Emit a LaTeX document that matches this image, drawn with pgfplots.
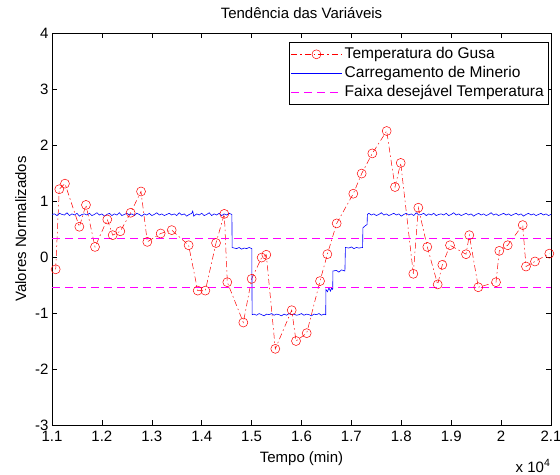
\documentclass[border=0pt]{standalone}
\usepackage{pgfplots}
\pgfplotsset{compat=1.18}
\usepackage{fontspec}
\setmainfont{Liberation Sans}

\definecolor{mred}{RGB}{255,0,0}
\definecolor{mblue}{RGB}{0,0,255}
\definecolor{mmag}{RGB}{255,0,255}
\newcommand{\fs}{\fontsize{15bp}{18bp}\selectfont}

\begin{document}
\begin{tikzpicture}
\path[use as bounding box] (0,0) rectangle (560bp,475bp);
\begin{axis}[
    name=ax,
    at={(52bp,50bp)}, anchor=south west,
    scale only axis, width=499bp, height=392bp,
    xmin=11000, xmax=21000,
    ymin=-3, ymax=4,
    scaled x ticks=false,
    xtick={11000,12000,13000,14000,15000,16000,17000,18000,19000,20000,21000},
    xticklabels={1.1,1.2,1.3,1.4,1.5,1.6,1.7,1.8,1.9,2,2.1},
    ytick={-3,-2,-1,0,1,2,3,4},
    yticklabels={-3,-2,-1,0,1,2,3,4},
    tick label style={font=\fs},
    xticklabel style={yshift=-3bp},
    tick align=inside, major tick length=5bp,
    axis line style={black, line width=0.5bp},
    every tick/.style={black, line width=0.5bp},
    title={Tendência das Variáveis},
    title style={font=\fs, anchor=base, at={(0.5,1)}, yshift=9bp},
    xlabel={Tempo (min)},
    ylabel={Valores Normalizados},
    label style={font=\fs},
    xlabel style={yshift=-3bp},
    ylabel style={yshift=2bp},
    legend cell align=left,
    legend style={at={(1,1)}, anchor=north east, xshift=-3bp, yshift=-9bp,
        font=\fontsize{15.5bp}{18bp}\selectfont, draw=black, line width=0.5bp,
        inner xsep=2bp, inner ysep=2.5bp, row sep=0pt,
        nodes={text height=11bp, text depth=3.5bp, inner ysep=2.3bp}},
    legend image code/.code={\draw[mark repeat=2,mark phase=2,#1] plot coordinates {(0bp,0bp) (25bp,0bp) (51bp,0bp)};},
]
\addplot[color=mred, line width=0.5bp, dash pattern=on 6bp off 3bp on 1.5bp off 3bp,
    mark=o, mark size=4.5bp, mark options={solid}] coordinates {
(11074,-0.22) (11146,1.21) (11260,1.31) (11548,0.54) (11681,0.93) (11862,0.18)
(12108,0.67) (12216,0.39) (12369,0.46) (12576,0.79) (12784,1.17) (12910,0.27)
(13178,0.42) (13399,0.48) (13738,0.21) (13920,-0.60) (14073,-0.60) (14287,0.25)
(14453,0.77) (14513,-0.45) (14834,-1.17) (15001,-0.39) (15202,-0.01) (15295,0.04)
(15475,-1.64) (15804,-0.95) (15890,-1.50) (16104,-1.36) (16371,-0.43) (16518,0.05)
(16705,0.60) (17038,1.13) (17206,1.49) (17419,1.85) (17707,2.25) (17874,1.25)
(17988,1.68) (18241,-0.30) (18341,0.88) (18521,0.18) (18729,-0.49) (18822,-0.14)
(18976,0.21) (19297,0.05) (19363,0.39) (19543,-0.54) (19898,-0.45) (19964,0.11)
(20132,0.21) (20433,0.57) (20499,-0.17) (20679,-0.08) (20966,0.06)
};
\addlegendentry{Temperatura do Gusa}
\addplot[color=mblue, line width=0.6bp] coordinates {
(11000,0.76) (11050,0.77) (11100,0.74) (11150,0.78) (11200,0.76) (11250,0.75)
(11300,0.79) (11350,0.74) (11400,0.77) (11450,0.75) (11500,0.78) (11550,0.73)
(11600,0.76) (11650,0.77) (11700,0.75) (11750,0.78) (11800,0.74) (11850,0.76)
(11900,0.79) (11950,0.75) (12000,0.77) (12050,0.73) (12100,0.76) (12150,0.78)
(12200,0.74) (12250,0.77) (12300,0.75) (12350,0.79) (12400,0.74) (12450,0.76)
(12500,0.78) (12550,0.75) (12600,0.77) (12650,0.74) (12700,0.78) (12750,0.76)
(12800,0.73) (12850,0.77) (12900,0.75) (12950,0.78) (13000,0.74) (13050,0.76)
(13100,0.79) (13150,0.75) (13200,0.77) (13250,0.74) (13300,0.76) (13350,0.78)
(13400,0.75) (13450,0.77) (13500,0.74) (13550,0.79) (13600,0.75) (13650,0.77)
(13700,0.73) (13750,0.76) (13800,0.78) (13820,0.82) (13840,0.73) (13900,0.77)
(13950,0.75) (14000,0.78) (14050,0.74) (14100,0.76) (14150,0.79) (14200,0.74)
(14250,0.77) (14300,0.75) (14350,0.78) (14400,0.74) (14450,0.77) (14500,0.75)
(14550,0.78) (14605,0.76)
(14610,0.17) (14650,0.16) (14700,0.15) (14750,0.17) (14800,0.14) (14850,0.16)
(14900,0.15) (14950,0.17) (15005,0.15)
(15010,-1.03) (15050,-1.02) (15100,-1.04) (15150,-1.01) (15200,-1.03) (15250,-1.05)
(15300,-1.02) (15350,-1.03) (15400,-1.01) (15450,-1.04) (15500,-1.02) (15550,-1.03)
(15600,-1.05) (15650,-1.02) (15700,-1.04) (15750,-1.01) (15800,-1.03) (15850,-1.02)
(15900,-1.04) (15950,-1.03) (16000,-1.01) (16050,-1.04) (16100,-1.02) (16150,-1.03)
(16200,-1.05) (16250,-1.02) (16300,-1.03) (16350,-1.01) (16400,-1.04) (16450,-1.02)
(16485,-1.03)
(16490,-0.58) (16520,-0.62) (16550,-0.55) (16580,-0.61) (16600,-0.56) (16625,-0.58)
(16630,-0.25) (16700,-0.24) (16750,-0.27) (16800,-0.23) (16870,-0.25)
(16880,0.17) (16950,0.16) (17000,0.18) (17050,0.15) (17100,0.17) (17150,0.16) (17225,0.17)
(17230,0.52) (17280,0.56) (17315,0.58)
(17320,0.76) (17350,0.78) (17400,0.75) (17450,0.77) (17500,0.74) (17550,0.76)
(17600,0.79) (17650,0.75) (17700,0.77) (17750,0.74) (17800,0.76) (17850,0.78)
(17900,0.75) (17950,0.77) (18000,0.73) (18050,0.76) (18100,0.78) (18150,0.75)
(18200,0.77) (18250,0.74) (18300,0.79) (18350,0.75) (18400,0.76) (18450,0.78)
(18500,0.74) (18550,0.77) (18600,0.75) (18650,0.78) (18700,0.74) (18750,0.76)
(18800,0.77) (18850,0.75) (18900,0.78) (18950,0.74) (19000,0.76) (19050,0.79)
(19100,0.75) (19150,0.77) (19200,0.74) (19250,0.76) (19300,0.78) (19350,0.75)
(19400,0.77) (19450,0.73) (19500,0.76) (19550,0.78) (19600,0.75) (19650,0.77)
(19700,0.74) (19750,0.76) (19800,0.79) (19850,0.75) (19900,0.77) (19950,0.74)
(20000,0.76) (20050,0.78) (20100,0.75) (20150,0.77) (20200,0.74) (20250,0.76)
(20300,0.78) (20350,0.75) (20400,0.77) (20450,0.73) (20500,0.76) (20550,0.78)
(20600,0.75) (20650,0.77) (20700,0.74) (20750,0.76) (20800,0.78) (20850,0.75)
(20900,0.77) (20950,0.74) (21000,0.76)
};
\addlegendentry{Carregamento de Minerio}
\addplot[color=mmag, line width=0.6bp, dash pattern=on 8bp off 5bp] coordinates {(11000,0.34) (21000,0.34)};
\addlegendentry{Faixa desejável Temperatura}
\addplot[color=mmag, line width=0.6bp, dash pattern=on 8bp off 5bp, forget plot] coordinates {(11000,-0.54) (21000,-0.54)};
\end{axis}
\node[anchor=center, xshift=-18bp, yshift=-41bp, font=\fs, inner sep=0pt] at (ax.south east) {x 10\textsuperscript{4}};
\end{tikzpicture}
\end{document}
